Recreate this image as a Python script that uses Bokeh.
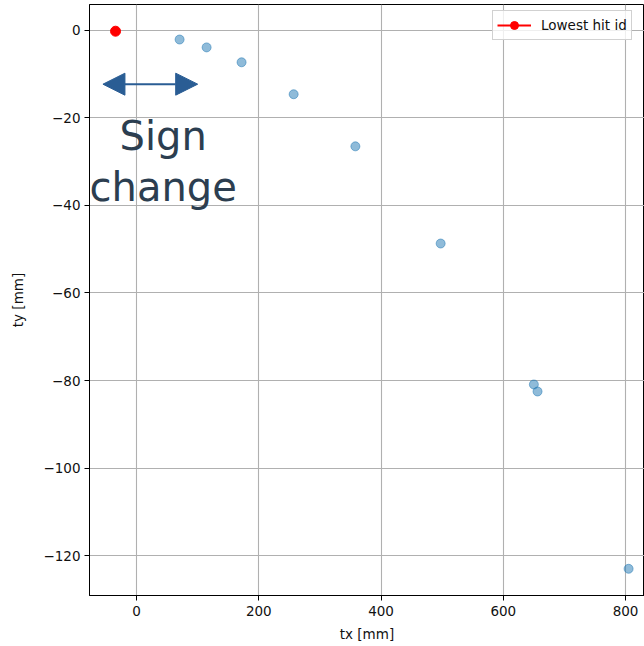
from bokeh.plotting import figure
from bokeh.models import Range1d, FixedTicker, Arrow, NormalHead, ColumnDataSource, Legend, LegendItem
from bokeh.core.properties import value
from bokeh.embed import file_html
from bokeh.resources import INLINE

# data
tx_hits = [70.4, 114.6, 171.8, 257.0, 358.0, 497.5, 650.0, 656.0, 805.0]
ty_hits = [-2.1, -3.9, -7.3, -14.6, -26.5, -48.7, -80.9, -82.5, -123.0]
tx_lowest = [-34.4]
ty_lowest = [-0.2]
x_ticks = [0, 200, 400, 600, 800]
y_ticks = [0, -20, -40, -60, -80, -100, -120]
arrow_x = [-55, 100]
arrow_y = -12.3
note_x = 43.5
note_y = -29.9
note_text = "Sign\nchange"

FONT = "DejaVu Sans"

p = figure(width=644, height=646, output_backend="svg", toolbar_location=None,
           x_range=Range1d(-77, 831), y_range=Range1d(-129.1, 5.9),
           min_border_left=89, min_border_right=0, min_border_top=4, min_border_bottom=51)
p.background_fill_color = "white"
p.border_fill_color = "white"
p.outline_line_color = "black"
p.outline_line_width = 1

for ax in (p.xaxis[0], p.yaxis[0]):
    ax.major_label_text_font = FONT
    ax.major_label_text_font_size = "13.5px"
    ax.major_label_text_color = "#111111"
    ax.axis_label_text_font = FONT
    ax.axis_label_text_font_size = "13.5px"
    ax.axis_label_text_font_style = "normal"
    ax.axis_label_text_color = "#111111"
    ax.major_tick_in = 0
    ax.major_tick_out = 5
    ax.minor_tick_line_color = None
    ax.axis_line_color = "black"
    ax.major_tick_line_color = "black"

p.xaxis.axis_label = "tx [mm]"
p.yaxis.axis_label = "ty [mm]"
p.xaxis.ticker = FixedTicker(ticks=x_ticks)
p.yaxis.ticker = FixedTicker(ticks=y_ticks)
p.xaxis.major_label_overrides = {t: str(t).replace("-", "\u2212") for t in x_ticks}
p.yaxis.major_label_overrides = {t: str(t).replace("-", "\u2212") for t in y_ticks}
p.xaxis.major_label_standoff = 5
p.yaxis.major_label_standoff = 4
p.xaxis.axis_label_standoff = 7
p.yaxis.axis_label_standoff = 14

p.xgrid.grid_line_color = "#b0b0b0"
p.ygrid.grid_line_color = "#b0b0b0"
p.xgrid.grid_line_width = 1.1
p.ygrid.grid_line_width = 1.1

p.scatter(tx_hits, ty_hits, size=9, fill_color="#1f77b4", line_color="#1f77b4",
          fill_alpha=0.5, line_alpha=0.5)

src = ColumnDataSource(dict(x=tx_lowest, y=ty_lowest))
r_line = p.line("x", "y", source=src, line_color="red", line_width=2)
r_pt = p.scatter("x", "y", source=src, size=10, fill_color="red", line_color="red")

arrow = Arrow(x_start=arrow_x[0], y_start=arrow_y, x_end=arrow_x[1], y_end=arrow_y,
              line_color="#2a5d94", line_width=2,
              start=NormalHead(size=22, fill_color="#2a5d94", line_color="#2a5d94"),
              end=NormalHead(size=22, fill_color="#2a5d94", line_color="#2a5d94"))
p.add_layout(arrow)

p.text(x=[note_x], y=[note_y], text=[note_text], text_font=value(FONT),
       text_font_size="40px", text_color="#2c3e50", text_align="center",
       text_baseline="middle", text_line_height=1.1)

legend = Legend(items=[LegendItem(label="Lowest hit id", renderers=[r_line, r_pt])],
                location=(403, 555), padding=4, spacing=0, margin=0,
                glyph_width=34, glyph_height=20, label_standoff=10,
                label_text_font=FONT, label_text_font_size="13.5px",
                label_text_color="#111111",
                border_line_color="#cccccc", border_line_alpha=0.9,
                background_fill_alpha=0.8)
p.add_layout(legend)

open("out.html", "w").write(file_html(p, INLINE))
